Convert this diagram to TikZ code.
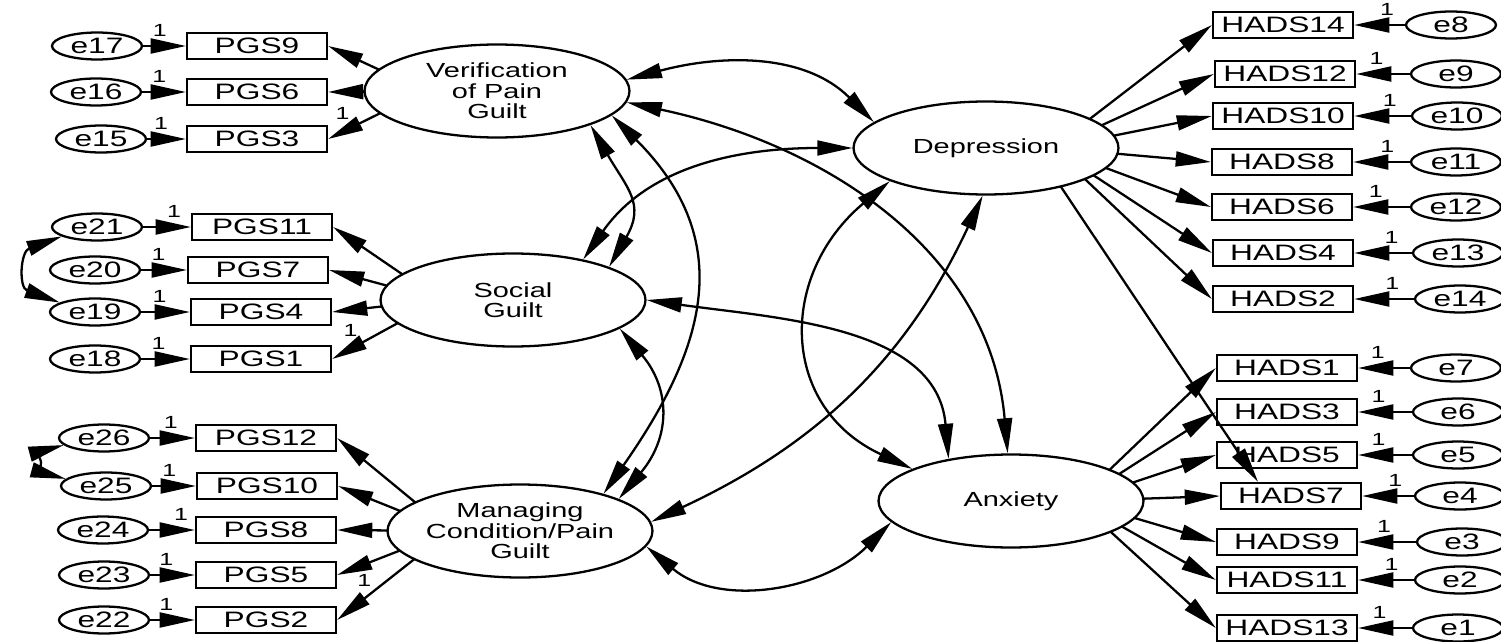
\documentclass[tikz,border=0pt]{standalone}
\usepackage{fontspec}
\setmainfont{Liberation Sans}[FakeStretch=1.42]
\usetikzlibrary{calc,shapes,arrows.meta,positioning,backgrounds}
\tikzset{%
    latent_var/.style={%
        ellipse, draw, line width=1.3pt, fill=white, minimum width=5.3cm, minimum height=1.86cm, inner sep=0pt
    },
    latent_txt/.style={%
        align=center, font=\fontsize{11.6}{11.6}\selectfont, inner sep=0pt
    },
    obs_var/.style={%
        rectangle, draw, line width=1.3pt, minimum width=2.8cm, minimum height=0.52cm, inner sep=1pt, font=\fontsize{12.7}{13}\selectfont
    },
    err_var/.style={%
        ellipse, draw, line width=1.3pt, minimum width=1.8cm, minimum height=0.54cm, inner sep=0pt, font=\fontsize{12.7}{13}\selectfont
    },
    one/.style={%
        font=\fontsize{10}{11}\selectfont, inner sep=0.5pt, above=4.5pt
    },
    load/.style={%
        ->, line width=1.3pt
    },
    cov/.style={%
        <->, line width=1.3pt
    },
}
\begin{document}
\begin{tikzpicture}[x=0.02cm, y=-0.02cm, >={Triangle[length=20pt,width=8.5pt]}]
  \useasboundingbox (0,0) rectangle (1501,642);

  % latent variables
  \node[latent_var, label={[latent_txt]center:Verification\\of Pain\\Guilt}] (ver) at (497,91) {};
  \node[latent_var, label={[latent_txt]center:Social\\Guilt}] (soc) at (513,300) {};
  \node[latent_var, label={[latent_txt]center:Managing\\Condition/Pain\\Guilt}] (man) at (520,531) {};
  \node[latent_var, label={[latent_txt]center:Depression}] (dep) at (986,148) {};
  \node[latent_var, label={[latent_txt]center:Anxiety}] (anx) at (1011,501) {};

  % PGS items and their errors
  \node[obs_var] (pgs9) at (257,46) {PGS9};
  \node[err_var] (e17) at (97,46) {e17};
  \draw[load] (e17) -- node[one,pos=.39]{1} (pgs9);
  \node[obs_var] (pgs6) at (257,92) {PGS6};
  \node[err_var] (e16) at (96,92) {e16};
  \draw[load] (e16) -- node[one,pos=.39]{1} (pgs6);
  \node[obs_var] (pgs3) at (257,139) {PGS3};
  \node[err_var] (e15) at (101,139) {e15};
  \draw[load] (e15) -- node[one,pos=.36]{1} (pgs3);

  \node[obs_var] (pgs11) at (262,227) {PGS11};
  \node[err_var] (e21) at (97,227) {e21};
  \draw[load] (e21) -- node[one,pos=.65]{1} (pgs11);
  \node[obs_var] (pgs7) at (258,270) {PGS7};
  \node[err_var] (e20) at (95,270) {e20};
  \draw[load] (e20) -- node[one,pos=.38]{1} (pgs7);
  \node[obs_var] (pgs4) at (261,312) {PGS4};
  \node[err_var] (e19) at (95,312) {e19};
  \draw[load] (e19) -- node[one,pos=.38]{1} (pgs4);
  \node[obs_var] (pgs1) at (261,359) {PGS1};
  \node[err_var] (e18) at (95,359) {e18};
  \draw[load] (e18) -- node[one,pos=.36]{1} (pgs1);

  \node[obs_var] (pgs12) at (266,438) {PGS12};
  \node[err_var] (e26) at (104,438) {e26};
  \draw[load] (e26) -- node[one,pos=.46]{1} (pgs12);
  \node[obs_var] (pgs10) at (267,486) {PGS10};
  \node[err_var] (e25) at (106,486) {e25};
  \draw[load] (e25) -- node[one,pos=.39]{1} (pgs10);
  \node[obs_var] (pgs8) at (266,530) {PGS8};
  \node[err_var] (e24) at (103,530) {e24};
  \draw[load] (e24) -- node[one,pos=.7]{1} (pgs8);
  \node[obs_var] (pgs5) at (266,575) {PGS5};
  \node[err_var] (e23) at (104,575) {e23};
  \draw[load] (e23) -- node[one,pos=.36]{1} (pgs5);
  \node[obs_var] (pgs2) at (266,620) {PGS2};
  \node[err_var] (e22) at (104,620) {e22};
  \draw[load] (e22) -- node[one,pos=.36]{1} (pgs2);

  % HADS items and their errors
  \node[obs_var] (hads14) at (1283,25) {HADS14};
  \node[err_var] (e8) at (1451,25) {e8};
  \draw[load] (e8) -- node[one,pos=.35]{1} (hads14);
  \node[obs_var] (hads12) at (1285,74) {HADS12};
  \node[err_var] (e9) at (1456,74) {e9};
  \draw[load] (e9) -- node[one,pos=.62]{1} (hads12);
  \node[obs_var] (hads10) at (1283,116) {HADS10};
  \node[err_var] (e10) at (1457,116) {e10};
  \draw[load] (e10) -- node[one,pos=.37]{1} (hads10);
  \node[obs_var] (hads8) at (1282,162) {HADS8};
  \node[err_var] (e11) at (1456,162) {e11};
  \draw[load] (e11) -- node[one,pos=.4]{1} (hads8);
  \node[obs_var] (hads6) at (1282,207) {HADS6};
  \node[err_var] (e12) at (1456,207) {e12};
  \draw[load] (e12) -- node[one,pos=.6]{1} (hads6);
  \node[obs_var] (hads4) at (1283,253) {HADS4};
  \node[err_var] (e13) at (1458,253) {e13};
  \draw[load] (e13) -- node[one,pos=.35]{1} (hads4);
  \node[obs_var] (hads2) at (1283,299) {HADS2};
  \node[err_var] (e14) at (1460,299) {e14};
  \draw[load] (e14) -- node[one,pos=.36]{1} (hads2);

  \node[obs_var] (hads1) at (1287,368) {HADS1};
  \node[err_var] (e7) at (1456,368) {e7};
  \draw[load] (e7) -- node[one,pos=.62]{1} (hads1);
  \node[obs_var] (hads3) at (1287,412) {HADS3};
  \node[err_var] (e6) at (1458,412) {e6};
  \draw[load] (e6) -- node[one,pos=.62]{1} (hads3);
  \node[obs_var] (hads5) at (1287,455) {HADS5};
  \node[err_var] (e5) at (1458,455) {e5};
  \draw[load] (e5) -- node[one,pos=.62]{1} (hads5);
  \node[obs_var] (hads7) at (1291,496) {HADS7};
  \node[err_var] (e4) at (1460,496) {e4};
  \draw[load] (e4) -- node[one,pos=.36]{1} (hads7);
  \node[obs_var] (hads9) at (1287,542) {HADS9};
  \node[err_var] (e3) at (1462,542) {e3};
  \draw[load] (e3) -- node[one,pos=.55]{1} (hads9);
  \node[obs_var] (hads11) at (1287,580) {HADS11};
  \node[err_var] (e2) at (1460,580) {e2};
  \draw[load] (e2) -- node[one,pos=.4]{1} (hads11);
  \node[obs_var] (hads13) at (1287,628) {HADS13};
  \node[err_var] (e1) at (1458,628) {e1};
  \draw[load] (e1) -- node[one,pos=.6]{1} (hads13);

  % loadings, drawn under the filled ellipses
  \begin{pgfonlayer}{background}
    \coordinate (verfan) at ($(ver)+(-72,0)$);
    \coordinate (socfan) at ($(soc)+(-73,0)$);
    \coordinate (manfan) at ($(man)+(-70,0)$);
    \coordinate (depfan) at ($(dep)+(66,0)$);
    \coordinate (anxfan) at ($(anx)+(66,0)$);
    \draw[load] (verfan) -- (pgs9.east);
    \draw[load] (verfan) -- (pgs6.east);
    \draw[load] (verfan) -- node[one,pos=.85,above=6pt]{1} (pgs3.east);
    \draw[load] (socfan) -- (pgs11.east);
    \draw[load] (socfan) -- (pgs7.east);
    \draw[load] (socfan) -- (pgs4.east);
    \draw[load] (socfan) -- node[one,pos=.83,above=6pt]{1} (pgs1.east);
    \draw[load] (manfan) -- (pgs12.east);
    \draw[load] (manfan) -- (pgs10.east);
    \draw[load] (manfan) -- (pgs8.east);
    \draw[load] (manfan) -- (pgs5.east);
    \draw[load] (manfan) -- node[one,pos=.76,above=6pt]{1} (pgs2.east);
    \draw[load] (depfan) -- (hads14.west);
    \draw[load] (depfan) -- (hads12.west);
    \draw[load] (depfan) -- (hads10.west);
    \draw[load] (depfan) -- (hads8.west);
    \draw[load] (depfan) -- (hads6.west);
    \draw[load] (depfan) -- (hads4.west);
    \draw[load] (depfan) -- (hads2.west);
    \draw[load] (anxfan) -- (hads1.west);
    \draw[load] (anxfan) -- (hads3.west);
    \draw[load] (anxfan) -- (hads5.west);
    \draw[load] (anxfan) -- (hads7.west);
    \draw[load] (anxfan) -- (hads9.west);
    \draw[load] (anxfan) -- (hads11.west);
    \draw[load] (anxfan) -- (hads13.west);
    % cross loading
    \coordinate (depcross) at ($(dep)+(49,0)$);
    \coordinate (hads7top) at ($(hads7.north)+(-33,0)$);
    \draw[load] (depcross) -- (hads7top);
  \end{pgfonlayer}

  % covariances
  \draw[cov] (ver.5) to[out=15,in=135] (dep.167);
  \draw[cov] (ver.-5) to[out=-12,in=95] (anx.94);
  \draw[cov] (ver.-20) to[out=-60,in=60,looseness=1.3] (soc.19);
  \draw[cov] (ver.-12) to[out=-45,in=55,looseness=1.2] (man.24);
  \draw[cov] (soc.-15) to[out=-50,in=50,looseness=1.2] (man.18);
  \draw[cov] (soc.30) to[out=55,in=180] (dep.180);
  \draw[cov] (soc.0) to[out=-8,in=95] (anx.146);
  \draw[cov] (man.4) to[out=25,in=-115] (dep.-94);
  \draw[cov] (man.-7) to[out=-40,in=-135] (anx.190);
  \draw[cov] (dep.-161) to[out=-140,in=155,looseness=1.3] (anx.162);
  \draw[cov] (e21.195) to[out=200,in=160,looseness=1.7] (e19.165);
  \draw[cov] (e26.190) to[out=195,in=165,looseness=1.6] (e25.170);
\end{tikzpicture}
\end{document}
